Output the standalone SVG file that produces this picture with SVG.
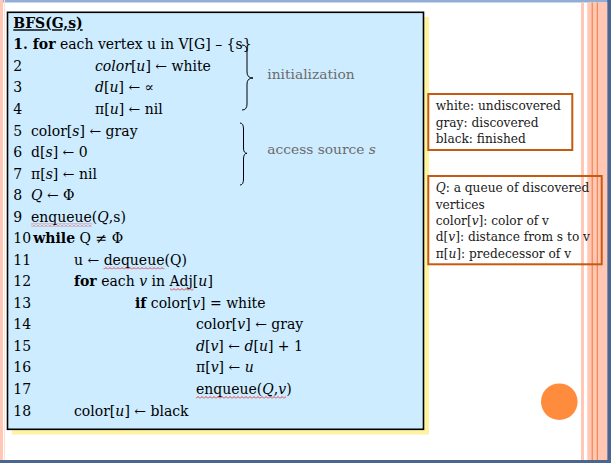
<svg xmlns="http://www.w3.org/2000/svg" width="611" height="463" viewBox="0 0 611 463">
<defs>
<style>
.code{font-family:"DejaVu Serif","Liberation Serif",serif;font-size:14px;fill:#000}
.b{font-weight:bold}
.i{font-style:italic}
.note{font-family:"DejaVu Serif","Liberation Serif",serif;font-size:12.2px;fill:#1a1a1a}
.lab{font-family:"DejaVu Serif","Liberation Serif",serif;font-size:13.8px;fill:#6b6b6b}
.brace{fill:none;stroke:#000;stroke-width:1}
.box{fill:none;stroke:#C55A11;stroke-width:2}
</style>
<pattern id="wavy" width="4" height="3" patternUnits="userSpaceOnUse">
<path d="M0,2.5 L2,0.5 L4,2.5" fill="none" stroke="#e01010" stroke-width="0.8"/>
</pattern>
</defs>
<rect width="611" height="463" fill="#fff"/>
<g id="frame">
<rect x="0" y="0" width="611" height="2.5" fill="#92aed4"/>
<rect x="0" y="0" width="3" height="460" fill="#ffc7b4"/>
<rect x="4" y="0" width="1" height="460" fill="#ffe0d4"/>
<rect x="581" y="2.5" width="3" height="458" fill="#ffc7b4"/>
<rect x="587.3" y="2.5" width="20" height="458" fill="#ffc7b4"/>
<rect x="591.7" y="2.5" width="1" height="458" fill="#f07a3c"/>
<rect x="596.8" y="2.5" width="1" height="458" fill="#f07a3c"/>
<rect x="607.3" y="0" width="3.7" height="463" fill="#4b6591"/>
<rect x="0" y="460" width="611" height="3" fill="#4b6591"/>
</g>
<g id="pseudocode">
<rect x="12" y="17" width="417" height="417.5" fill="#fff3a0"/>
<rect x="7.5" y="12.3" width="416" height="417" fill="#cdecff" stroke="#000" stroke-width="1.6"/>
<text class="code b" x="13.3" y="28.3" font-size="16" text-decoration="underline">BFS(G,s)</text>
<text class="code" x="13.3" y="49.3"><tspan class="b">1. for</tspan> each vertex u in V[G] –  {s}</text>
<text class="code" x="13.3" y="70.8">2</text>
<text class="code" x="95" y="70.8"><tspan class="i">color</tspan>[<tspan class="i">u</tspan>] ← white</text>
<text class="code" x="13.3" y="92.4">3</text>
<text class="code" x="95" y="92.4"><tspan class="i">d</tspan>[<tspan class="i">u</tspan>] ← ∝</text>
<text class="code" x="13.3" y="113.9">4</text>
<text class="code" x="95" y="113.9">π[<tspan class="i">u</tspan>] ← nil</text>
<text class="code" x="13.3" y="135.5">5</text>
<text class="code" x="31" y="135.5">color[<tspan class="i">s</tspan>] ← gray</text>
<text class="code" x="13.3" y="157">6</text>
<text class="code" x="31" y="157">d[<tspan class="i">s</tspan>] ← 0</text>
<text class="code" x="13.3" y="178.5">7</text>
<text class="code" x="31" y="178.5">π[<tspan class="i">s</tspan>] ← nil</text>
<text class="code" x="13.3" y="200.1">8</text>
<text class="code" x="31" y="200.1"><tspan class="i">Q</tspan> ← Φ</text>
<text class="code" x="13.3" y="221.6">9</text>
<text class="code" x="31" y="221.6">enqueue(<tspan class="i">Q</tspan>,s)</text>
<text class="code" x="13.3" y="243.2">10</text>
<text class="code" x="33.3" y="243.2"><tspan class="b">while</tspan> Q ≠ Φ</text>
<text class="code" x="13.3" y="264.7">11</text>
<text class="code" x="74" y="264.7">u ← dequeue(Q)</text>
<text class="code" x="13.3" y="286.3">12</text>
<text class="code" x="74" y="286.3"><tspan class="b">for</tspan> each <tspan class="i">v</tspan> in Adj[<tspan class="i">u</tspan>]</text>
<text class="code" x="13.3" y="307.8">13</text>
<text class="code" x="135" y="307.8"><tspan class="b">if</tspan> color[<tspan class="i">v</tspan>] = white</text>
<text class="code" x="13.3" y="329.3">14</text>
<text class="code" x="196" y="329.3">color[<tspan class="i">v</tspan>] ← gray</text>
<text class="code" x="13.3" y="350.9">15</text>
<text class="code" x="196" y="350.9"><tspan class="i">d</tspan>[<tspan class="i">v</tspan>] ← <tspan class="i">d</tspan>[<tspan class="i">u</tspan>] + 1</text>
<text class="code" x="13.3" y="372.4">16</text>
<text class="code" x="196" y="372.4">π[<tspan class="i">v</tspan>] ← <tspan class="i">u</tspan></text>
<text class="code" x="13.3" y="394">17</text>
<text class="code" x="196" y="394">enqueue(<tspan class="i">Q</tspan>,<tspan class="i">v</tspan>)</text>
<text class="code" x="13.3" y="415.6">18</text>
<text class="code" x="74" y="415.6">color[<tspan class="i">u</tspan>] ← black</text>
<rect x="31" y="223.5" width="61" height="3" fill="url(#wavy)"/>
<rect x="103.5" y="266.5" width="61" height="3" fill="url(#wavy)"/>
<rect x="170" y="288" width="23.5" height="3" fill="url(#wavy)"/>
<rect x="196" y="396" width="90" height="3" fill="url(#wavy)"/>
</g>
<g id="braces">
<path class="brace" d="M242,45 Q247,45 247,51 L247,72 Q247,78 253,78 Q247,78 247,84 L247,104 Q247,110 242,110"/>
<path class="brace" d="M240,123 Q243.5,123 243.5,129 L243.5,148 Q243.5,153.3 247,153.3 Q243.5,153.3 243.5,159 L243.5,179 Q243.5,185 240,185"/>
<text class="lab" x="267.3" y="79">initialization</text>
<text class="lab" x="267.3" y="154.3">access source <tspan font-style="italic">s</tspan></text>
</g>
<g id="legend-colors">
<rect class="box" x="428.3" y="94" width="144" height="56"/>
<text class="note" x="435.7" y="110">white: undiscovered</text>
<text class="note" x="435.7" y="126.7">gray: discovered</text>
<text class="note" x="435.7" y="143.3">black: finished</text>
</g>
<g id="legend-vars">
<rect class="box" x="428.3" y="176" width="173.4" height="88.3"/>
<text class="note" x="435.7" y="192.3"><tspan font-style="italic">Q</tspan>: a queue of discovered</text>
<text class="note" x="435.7" y="208.6">vertices</text>
<text class="note" x="435.7" y="224.9">color[<tspan font-style="italic">v</tspan>]: color of v</text>
<text class="note" x="435.7" y="241.2">d[<tspan font-style="italic">v</tspan>]: distance from s to v</text>
<text class="note" x="435.7" y="257.5">π[<tspan font-style="italic">u</tspan>]: predecessor of v</text>
</g>
<circle id="dot" cx="559.3" cy="401.7" r="18.3" fill="#ff8b3d"/>
</svg>
